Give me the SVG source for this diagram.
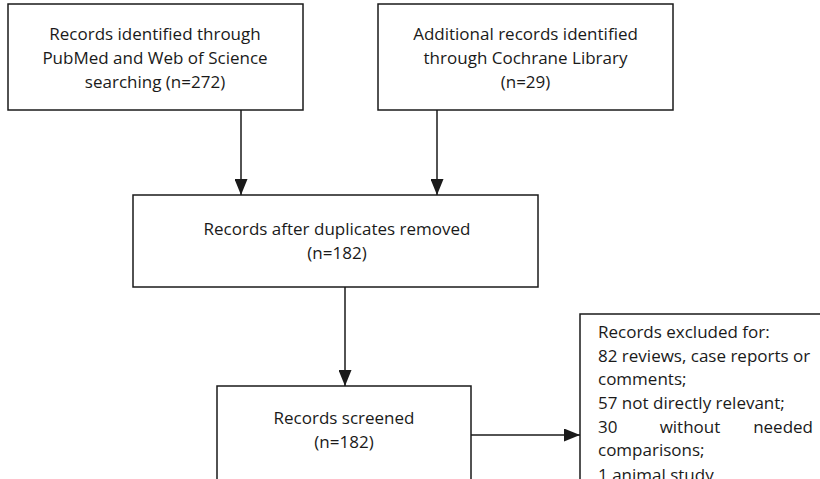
<svg xmlns="http://www.w3.org/2000/svg" width="820" height="479" viewBox="0 0 820 479">
<defs>
<marker id="ah" viewBox="0 0 16 13" refX="16" refY="6.5" markerWidth="16" markerHeight="13" markerUnits="userSpaceOnUse" orient="auto">
<path d="M0,0 L16,6.5 L0,13 z" fill="#1a1a1a"/>
</marker>
<style>
.box{fill:#fff;stroke:#1a1a1a;stroke-width:1.5}
.t{font-family:"Open Sans","Liberation Sans",sans-serif;font-size:17px;fill:#1a1a1a}
.c{text-anchor:middle}
.ln{stroke:#1a1a1a;stroke-width:1.5;fill:none}
</style>
</defs>
<rect width="820" height="479" fill="#fff"/>
<g id="n1">
<rect class="box" x="8" y="4" width="295" height="106"/>
<text class="t c" x="155" y="40">Records identified through</text>
<text class="t c" x="155" y="64">PubMed and Web of Science</text>
<text class="t c" x="155" y="88">searching (n=272)</text>
</g>
<g id="n2">
<rect class="box" x="378" y="4" width="295" height="106"/>
<text class="t c" x="525.5" y="40">Additional records identified</text>
<text class="t c" x="525.5" y="64">through Cochrane Library</text>
<text class="t c" x="525.5" y="88">(n=29)</text>
</g>
<g id="n3">
<rect class="box" x="133" y="195" width="405" height="92"/>
<text class="t c" x="337" y="235">Records after duplicates removed</text>
<text class="t c" x="337" y="259">(n=182)</text>
</g>
<g id="n4">
<rect class="box" x="217" y="386" width="254" height="110"/>
<text class="t c" x="344" y="424">Records screened</text>
<text class="t c" x="344" y="448">(n=182)</text>
</g>
<g id="n5">
<rect class="box" x="580" y="314" width="260" height="180"/>
<text class="t" x="598" y="338">Records excluded for:</text>
<text class="t" x="598" y="362">82 reviews, case reports or</text>
<text class="t" x="598" y="385">comments;</text>
<text class="t" x="598" y="409">57 not directly relevant;</text>
<text class="t" x="598" y="433">30</text>
<text class="t c" x="690" y="433">without</text>
<text class="t" x="813" y="433" text-anchor="end">needed</text>
<text class="t" x="598" y="456">comparisons;</text>
<text class="t" x="598" y="481">1 animal study</text>
</g>
<g id="connectors">
<line class="ln" x1="241" y1="110" x2="241" y2="195" marker-end="url(#ah)"/>
<line class="ln" x1="437" y1="110" x2="437" y2="195" marker-end="url(#ah)"/>
<line class="ln" x1="345" y1="287" x2="345" y2="386" marker-end="url(#ah)"/>
<line class="ln" x1="471" y1="435" x2="580" y2="435" marker-end="url(#ah)"/>
</g>
</svg>
